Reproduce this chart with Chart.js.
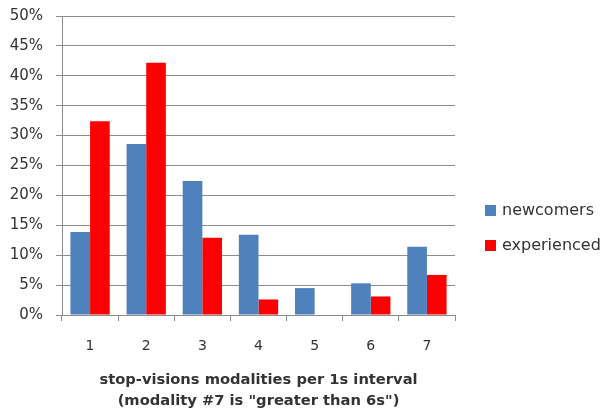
<!DOCTYPE html>
<html>
<head>
<meta charset="utf-8">
<script src="https://cdn.jsdelivr.net/npm/chart.js@4.4.1/dist/chart.umd.min.js"></script>
<style>
html,body{margin:0;padding:0;background:#fff;}
#wrap{position:relative;width:608px;height:415px;}
</style>
</head>
<body>
<div id="wrap"><canvas id="c" width="608" height="415"></canvas></div>
<script>
const categories = ["1","2","3","4","5","6","7"];
const newcomers = [13.9, 28.6, 22.4, 13.4, 4.5, 5.3, 11.4];
const experienced = [32.4, 42.2, 12.9, 2.6, 0, 3.1, 6.7];
const seriesNames = ["newcomers", "experienced"];
const axisTitle = ["stop-visions modalities per 1s interval", "(modality #7 is \"greater than 6s\")"];

const gridColor = "#8c8c8c";
const textColor = "#333333";

const legendPlugin = {
  id: "sideLegend",
  afterDraw(chart) {
    const ctx = chart.ctx;
    const a = chart.chartArea;
    ctx.save();
    ctx.font = "16px 'DejaVu Sans'";
    ctx.textBaseline = "middle";
    ctx.textAlign = "left";
    chart.data.datasets.forEach((ds, i) => {
      const y = a.top + 194 + i * 35;
      const x = a.right + 30;
      ctx.fillStyle = ds.backgroundColor;
      ctx.fillRect(x, y - 5, 11, 11);
      ctx.fillStyle = textColor;
      ctx.fillText(ds.label, x + 17, y + 1);
    });
    ctx.restore();
  }
};

new Chart(document.getElementById("c"), {
  type: "bar",
  data: {
    labels: categories,
    datasets: [
      { label: seriesNames[0], data: newcomers, backgroundColor: "#4F81BD", categoryPercentage: 0.7, barPercentage: 1.0 },
      { label: seriesNames[1], data: experienced, backgroundColor: "#FF0000", categoryPercentage: 0.7, barPercentage: 1.0 }
    ]
  },
  options: {
    responsive: false,
    animation: false,
    devicePixelRatio: 1,
    layout: { padding: { top: 16, right: 153, left: 0, bottom: 4 } },
    plugins: { legend: { display: false }, tooltip: { enabled: false } },
    scales: {
      x: {
        grid: { offset: true, drawOnChartArea: false, drawTicks: true, tickLength: 6, color: gridColor },
        border: { display: true, color: gridColor },
        ticks: { color: textColor, font: { family: "DejaVu Sans", size: 14 }, padding: 17 },
        title: {
          display: true, text: axisTitle, color: textColor,
          font: { family: "DejaVu Sans", size: 14.7, weight: "bold", lineHeight: 1.38 },
          padding: { top: 12, bottom: 0 }
        },
        afterFit(s) { s.height = 96; }
      },
      y: {
        min: 0, max: 50,
        grid: { color: gridColor, tickLength: 6 },
        border: { display: true, color: gridColor },
        ticks: {
          stepSize: 5, color: textColor, padding: 13,
          font: { family: "DejaVu Sans", size: 15 },
          callback: v => v + "%"
        },
        afterFit(s) { s.width = 62; s.paddingTop = 0; }
      }
    }
  },
  plugins: [legendPlugin]
});
</script>
</body>
</html>
